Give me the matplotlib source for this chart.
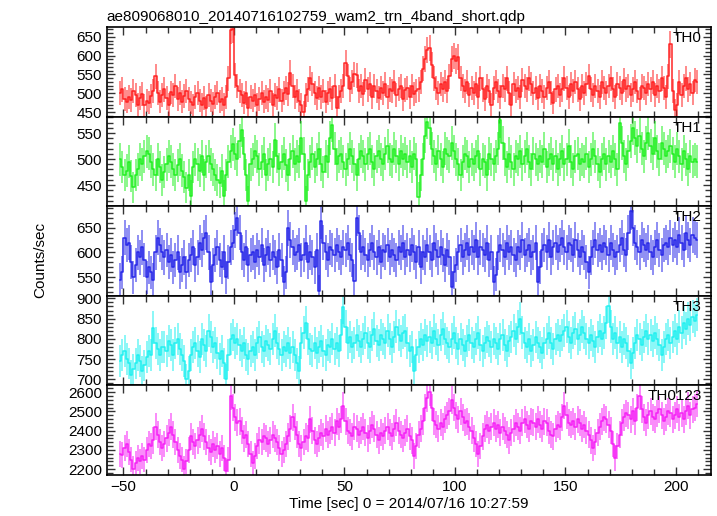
import numpy as np
import matplotlib
matplotlib.use("Agg")
import matplotlib.pyplot as plt
from matplotlib.ticker import MultipleLocator

matplotlib.rcParams['font.family'] = ['Liberation Sans', 'DejaVu Sans']
matplotlib.rcParams['font.size'] = 11

title = "ae809068010_20140716102759_wam2_trn_4band_short.qdp"
xlabel = "Time [sec] 0 = 2014/07/16 10:27:59"
ylabel = "Counts/sec"

# light curves, 1 s bins starting at t = -52 s
t_start = -52.0
bin_width = 1.0
orig_bin = 0.5  # error bars in the original are for 0.5 s bins

th0 = [
    500, 510, 485, 478, 490, 482, 505, 495, 470, 488,
    498, 468, 480, 475, 492, 505, 545, 500, 478, 495,
    510, 488, 470, 502, 495, 520, 485, 500, 478, 492,
    505, 485, 476, 468, 490, 500, 480, 470, 488, 462,
    495, 480, 472, 490, 500, 478, 485, 470, 490, 540,
    668, 670, 548, 520, 505, 495, 475, 500, 460, 490,
    480, 495, 470, 485, 500, 478, 490, 482, 505, 470,
    495, 488, 510, 480, 500, 515, 498, 555, 520, 490,
    505, 480, 470, 450, 495, 510, 540, 525, 500, 488,
    515, 490, 505, 478, 500, 510, 488, 520, 462, 490,
    505, 520, 580, 545, 510, 530, 550, 548, 505, 520,
    498, 535, 510, 525, 490, 520, 505, 488, 515, 500,
    525, 490, 510, 505, 530, 495, 512, 520, 485, 508,
    515, 490, 520, 498, 505, 510, 530, 565, 590, 615,
    620, 575, 540, 515, 500, 525, 510, 530, 505, 545,
    590, 600, 585, 595, 540, 520, 505, 530, 495, 515,
    500, 525, 490, 540, 510, 485, 520, 505, 470, 515,
    530, 505, 490, 520, 510, 540, 500, 470, 525, 505,
    515, 490, 535, 520, 510, 540, 525, 500, 515, 488,
    520, 505, 490, 515, 530, 500, 475, 510, 520, 495,
    510, 540, 515, 490, 525, 505, 530, 510, 485, 520,
    500, 525, 545, 510, 495, 520, 505, 490, 530, 515,
    500, 520, 540, 510, 490, 525, 515, 500, 535, 510,
    520, 495, 510, 530, 505, 485, 520, 515, 500, 525,
    510, 530, 495, 520, 505, 540, 515, 490, 545, 630,
    505, 455, 470, 530, 495, 520, 540, 510, 525, 500,
    535, 530,
]

th1 = [
    500, 485, 470, 478, 495, 468, 446, 470, 480, 500,
    490, 505, 515, 510, 495, 480, 470, 500, 485, 460,
    475, 490, 505, 495, 480, 470, 488, 500, 478, 465,
    445, 470, 430, 485, 500, 490, 478, 505, 470, 495,
    505, 490, 480, 470, 460, 455, 478, 430, 470, 495,
    515, 528, 510, 500, 535, 556, 510, 470, 420, 490,
    500, 515, 505, 480, 495, 510, 470, 490, 500, 485,
    537, 505, 480, 495, 510, 488, 470, 500, 515, 490,
    505, 495, 540, 510, 420, 470, 495, 510, 485, 500,
    520, 490, 475, 505, 495, 540, 566, 520, 490, 505,
    510, 495, 480, 500, 520, 505, 490, 470, 500, 515,
    505, 490, 510, 520, 495, 480, 505, 515, 500, 490,
    510, 525, 500, 495, 520, 505, 490, 515, 500, 510,
    495, 505, 485, 510, 500, 427, 470, 500, 545, 572,
    560, 520, 505, 490, 515, 500, 485, 520, 510, 505,
    530, 515, 500, 490, 470, 495, 510, 505, 485, 500,
    490, 505, 515, 480, 500, 495, 470, 510, 500, 490,
    505, 520, 575, 530, 500, 485, 510, 495, 480, 505,
    500, 515, 490, 505, 520, 495, 480, 510, 500, 490,
    505, 495, 520, 485, 500, 510, 490, 505, 480, 500,
    515, 490, 500, 525, 495, 480, 505, 510, 490, 500,
    495, 510, 485, 500, 520, 505, 490, 475, 500, 510,
    490, 505, 495, 515, 500, 480, 570, 530, 505, 490,
    515, 535, 560, 540, 525, 545, 520, 505, 530, 550,
    525, 510, 540, 515, 500, 530, 520, 505, 515, 525,
    510, 495, 520, 505, 490, 515, 500, 480, 505, 495,
    500, 495,
]

th2 = [
    545, 560, 630, 615, 620, 580, 550, 575, 600, 590,
    610, 585, 550, 570, 560, 545, 600, 630, 615, 600,
    590, 605, 580, 595, 570, 585, 600, 560, 575, 590,
    560, 585, 595, 610, 575, 590, 620, 605, 630, 640,
    600, 540, 575, 595, 610, 585, 570, 600, 550, 580,
    610, 620, 645, 670, 640, 600, 585, 610, 575, 595,
    600, 580, 605, 590, 615, 575, 595, 610, 585, 600,
    590, 570, 605, 585, 540, 560, 650, 625, 610, 595,
    600, 615, 585, 595, 620, 580, 600, 590, 570, 605,
    523, 663, 620, 600, 585, 610, 605, 595, 615, 600,
    590, 610, 605, 620, 595, 585, 543, 670, 640, 600,
    610, 595, 585, 605, 620, 600, 590, 610, 580, 605,
    600, 615, 590, 605, 595, 585, 610, 600, 620, 590,
    605, 595, 615, 600, 580, 610, 570, 600, 590, 615,
    600, 585, 620, 605, 590, 610, 595, 575, 605, 590,
    530, 560, 575, 600, 615, 590, 605, 620, 595, 610,
    600, 625, 590, 610, 605, 595, 620, 585, 600, 540,
    555, 600, 615, 605, 590, 620, 600, 610, 595, 585,
    610, 600, 625, 595, 605, 615, 590, 600, 620, 540,
    570, 605, 615, 600, 625, 590, 610, 620, 600, 615,
    630, 610, 600, 620, 615, 595, 625, 605, 590, 610,
    600, 580, 560, 590, 610, 625, 605, 615, 600, 620,
    610, 595, 620, 605, 590, 600, 615, 630, 605, 595,
    640, 683, 650, 620, 610, 600, 625, 615, 605, 620,
    600, 590, 610, 625, 605, 595, 615, 620, 610, 630,
    615, 625, 610, 635, 620, 605, 640, 625, 615, 635,
    630, 625,
]

th3 = [
    745, 760, 770, 750, 740, 710, 725, 740, 760, 745,
    720, 735, 755, 770, 760, 828, 790, 775, 760, 780,
    780, 770, 795, 785, 760, 790, 800, 775, 760, 745,
    700, 720, 760, 780, 790, 770, 755, 800, 785, 770,
    820, 805, 780, 790, 765, 750, 770, 740, 700, 760,
    800, 810, 790, 800, 785, 770, 790, 760, 750, 770,
    780, 760, 790, 805, 780, 770, 795, 785, 775, 800,
    820, 790, 775, 760, 780, 770, 790, 765, 780, 760,
    740, 720, 790, 815, 840, 800, 775, 770, 790, 765,
    780, 795, 770, 760, 785, 780, 800, 775, 790, 770,
    810, 878, 830, 790, 805, 780, 790, 810, 795, 780,
    800, 815, 790, 780, 810, 825, 795, 785, 810, 800,
    790, 820, 800, 780, 805, 830, 810, 795, 815, 820,
    790, 770, 780, 720, 760, 780, 800, 785, 810, 795,
    805, 790, 820, 800, 785, 810, 825, 800, 790, 780,
    800, 815, 790, 775, 800, 785, 770, 795, 810, 790,
    780, 800, 815, 785, 770, 790, 805, 795, 780, 800,
    790, 775, 800, 810, 785, 770, 795, 805, 820, 800,
    830, 850, 815, 790, 780, 800, 770, 785, 805, 790,
    780, 765, 790, 800, 815, 790, 775, 800, 810, 795,
    810, 820, 830, 805, 790, 815, 825, 800, 810, 830,
    815, 800, 790, 810, 795, 780, 805, 820, 800, 815,
    840, 880, 830, 800, 815, 790, 805, 780, 800, 790,
    770, 740, 765, 790, 810, 800, 785, 805, 820, 800,
    810, 795, 815, 800, 785, 760, 780, 800, 810, 790,
    805, 820, 800, 830, 815, 840, 825, 850, 835, 855,
    845, 860,
]

th0123 = [
    2280, 2275, 2310, 2330, 2290, 2250, 2200, 2230, 2260, 2240,
    2270, 2250, 2300, 2330, 2320, 2350, 2420, 2380, 2340, 2310,
    2330, 2360, 2390, 2420, 2380, 2340, 2300, 2270, 2250, 2200,
    2240, 2300, 2370, 2340, 2320, 2350, 2380, 2410, 2370, 2340,
    2310, 2290, 2330, 2300, 2320, 2280, 2310, 2260, 2190, 2250,
    2580, 2520, 2470, 2440, 2450, 2400, 2360, 2380, 2330, 2280,
    2230, 2270, 2320, 2350, 2340, 2370, 2360, 2330, 2350, 2380,
    2360, 2340, 2310, 2280, 2300, 2330, 2370, 2410, 2470, 2420,
    2380, 2330, 2310, 2340, 2370, 2360, 2460, 2400, 2350, 2330,
    2360, 2390, 2370, 2410, 2380, 2400, 2420, 2390, 2450, 2420,
    2460, 2530, 2450, 2400, 2390, 2370, 2420, 2410, 2380, 2400,
    2420, 2390, 2360, 2400, 2430, 2410, 2380, 2350, 2390, 2370,
    2400, 2420, 2390, 2370, 2410, 2440, 2400, 2380, 2360, 2390,
    2410, 2370, 2350, 2270, 2320, 2380, 2410, 2450, 2520, 2570,
    2600, 2520, 2450, 2430, 2410, 2440, 2420, 2460, 2480, 2500,
    2560, 2520, 2480, 2460, 2500, 2470, 2440, 2450, 2420, 2400,
    2360, 2330, 2280, 2320, 2370, 2410, 2430, 2400, 2420, 2440,
    2410, 2430, 2390, 2420, 2400, 2380, 2350, 2390, 2410, 2440,
    2420, 2400, 2440, 2460, 2430, 2410, 2450, 2440, 2420, 2460,
    2430, 2410, 2450, 2440, 2400, 2380, 2370, 2410, 2430, 2420,
    2470, 2530, 2480, 2440, 2430, 2450, 2420, 2460, 2440, 2410,
    2430, 2400, 2380, 2350, 2310, 2340, 2390, 2420, 2450, 2470,
    2460, 2430, 2400, 2330, 2260, 2320, 2380, 2440, 2470, 2490,
    2480, 2460, 2500, 2450, 2520, 2580, 2510, 2470, 2440, 2480,
    2500, 2470, 2460, 2490, 2510, 2480, 2450, 2470, 2500, 2490,
    2460, 2480, 2510, 2470, 2490, 2460, 2500, 2530, 2480, 2510,
    2520, 2540,
]

bands = ["TH0", "TH1", "TH2", "TH3", "TH0123"]
rates = [th0, th1, th2, th3, th0123]
colors = ["#ff1a1a", "#1aef1a", "#2020e8", "#1af0f0", "#f51af5"]
ylims = [(438, 676), (409.6, 581.5), (513, 693), (685, 906.4), (2170, 2635)]
ymajor = [50, 50, 50, 50, 100]
yminor = [10, 10, 10, 10, 20]


fig, axes = plt.subplots(5, 1, sharex=True, figsize=(7.17, 5.16), dpi=100)
fig.subplots_adjust(left=0.1488, right=0.9912, top=0.9477, bottom=0.0795, hspace=0)

for i, ax in enumerate(axes):
    y = np.array(rates[i], dtype=float)
    t = t_start + bin_width * (np.arange(len(y)) + 0.5)
    err = np.sqrt(y / orig_bin)
    c = colors[i]

    # light vertical error bars, solid histogram line through the bins
    ax.errorbar(t, y, yerr=err, fmt='none', ecolor=c, elinewidth=1.3,
                alpha=0.55, capsize=0)
    ax.step(t, y, where='mid', color=c, linewidth=1.1, alpha=0.95)

    ax.set_ylim(ylims[i])
    ax.yaxis.set_major_locator(MultipleLocator(ymajor[i]))
    ax.yaxis.set_minor_locator(MultipleLocator(yminor[i]))
    ax.xaxis.set_major_locator(MultipleLocator(50))
    ax.xaxis.set_minor_locator(MultipleLocator(10))
    ax.tick_params(which='both', direction='in', top=True, right=True,
                   labelsize=11, width=1.0, color='#333333')
    ax.tick_params(which='major', length=6)
    ax.tick_params(which='minor', length=4)
    for s in ax.spines.values():
        s.set_linewidth(1.2)

    ax.text(0.985, 0.955, bands[i], transform=ax.transAxes, ha='right',
            va='top', fontsize=11)

axes[0].set_xlim(-57.6, 215.7)
axes[0].set_title(title, loc='left', fontsize=11, pad=4)
axes[-1].set_xlabel(xlabel, fontsize=11, labelpad=2)
fig.text(0.056, 0.496, ylabel, rotation=90, ha='center', va='center', fontsize=11)

plt.savefig("out.png", dpi=100)
